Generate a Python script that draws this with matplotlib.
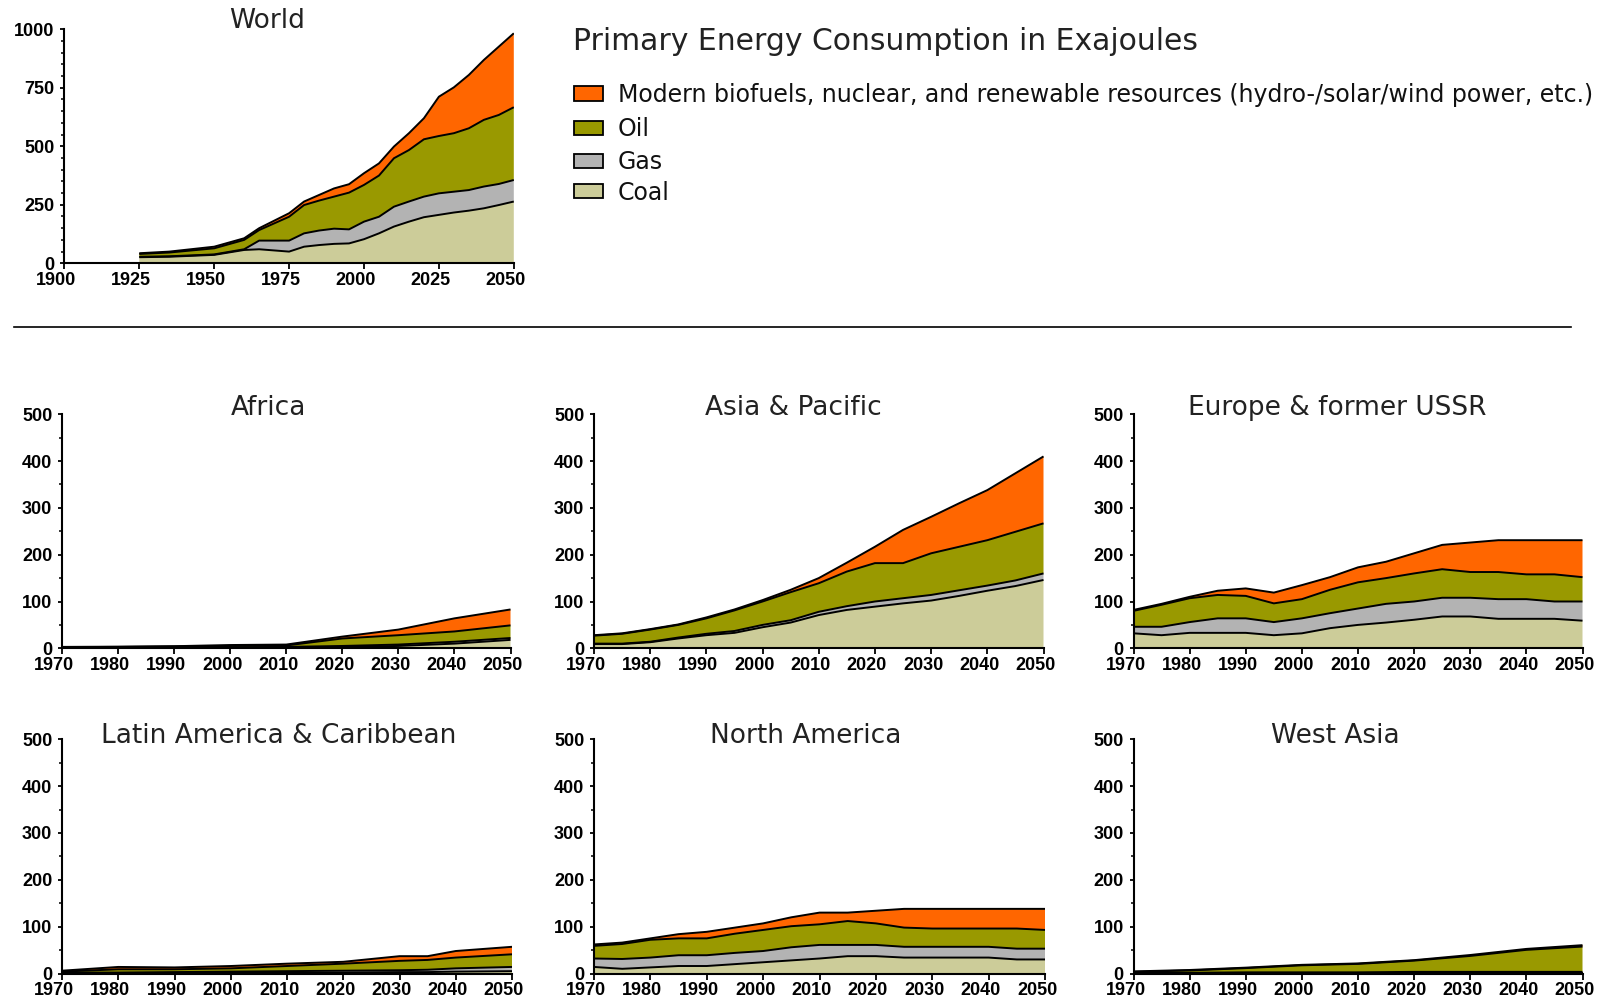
import numpy as np
import matplotlib
matplotlib.use("Agg")
import matplotlib.pyplot as plt
from matplotlib.patches import Rectangle
from matplotlib.lines import Line2D
from matplotlib.ticker import MultipleLocator
from matplotlib.transforms import ScaledTranslation

FIG_W, FIG_H = 1610, 998

LAYER_NAMES = ["Coal", "Gas", "Oil",
               "Modern biofuels, nuclear, and renewable resources (hydro-/solar/wind power, etc.)"]
LAYER_COLORS = ["#cccc99", "#b3b3b3", "#999900", "#ff6600"]
LEGEND_TITLE = "Primary Energy Consumption in Exajoules"

# World, exajoules per source
world_years = [1925, 1935, 1950, 1960, 1965, 1975, 1980, 1985, 1990, 1995, 2000,
               2005, 2010, 2015, 2020, 2025, 2030, 2035, 2040, 2045, 2050]
world_coal = [26, 28, 36, 57, 60, 50, 71, 78, 83, 85, 103, 128, 157, 178, 197, 207, 217, 225, 235, 249, 264]
world_gas = [2, 2, 2, 3, 37, 47, 57, 62, 65, 60, 75, 71, 85, 86, 88, 92, 89, 88, 93, 90, 92]
world_oil = [12, 16, 26, 40, 45, 102, 121, 128, 137, 157, 157, 176, 207, 220, 245, 245, 250, 264, 285, 295, 311]
world_renew = [3, 4, 7, 7, 8, 15, 15, 24, 35, 36, 50, 52, 50, 72, 90, 168, 196, 228, 256, 292, 316]

decade_years = [1970, 1980, 1990, 2000, 2010, 2020, 2030, 2040, 2050]
five_years = [1970, 1975, 1980, 1985, 1990, 1995, 2000, 2005, 2010, 2015,
              2020, 2025, 2030, 2035, 2040, 2045, 2050]

africa_coal = [1, 1, 1, 1, 2, 3, 5, 10, 18]
africa_gas = [0.5, 0.5, 1, 1, 1, 2, 3, 4, 4]
africa_oil = [1, 1.5, 2, 3, 3, 16, 20, 22, 27]
africa_renew = [0.5, 0.5, 0.5, 2, 2, 4, 12, 28, 34]

asia_coal = [9, 9, 13, 21, 28, 33, 45, 55, 71, 82, 89, 96, 102, 112, 123, 133, 146]
asia_gas = [1, 1, 1, 2, 3, 4, 5, 5, 7, 8, 11, 11, 12, 12, 11, 12, 14]
asia_oil = [17, 21, 26, 27, 33, 44, 50, 60, 61, 74, 82, 75, 89, 93, 97, 104, 107]
asia_renew = [1, 1, 1, 1, 2, 2, 3, 5, 11, 19, 35, 71, 78, 93, 107, 125, 143]

europe_coal = [32, 28, 33, 33, 33, 28, 32, 43, 50, 55, 61, 68, 68, 63, 63, 63, 59]
europe_gas = [14, 18, 23, 31, 31, 28, 32, 32, 35, 40, 39, 40, 40, 42, 42, 37, 41]
europe_oil = [34, 47, 51, 50, 48, 40, 41, 50, 56, 55, 60, 61, 55, 58, 53, 58, 52]
europe_renew = [2, 2, 3, 9, 16, 23, 30, 27, 32, 35, 43, 52, 63, 68, 73, 73, 79]

latin_years = [1970, 1980, 1990, 2000, 2010, 2020, 2030, 2035, 2040, 2050]
latin_coal = [1, 1, 1, 2, 2, 2, 3, 3, 4, 5]
latin_gas = [1, 1, 2, 2, 3, 4, 4, 5, 7, 9]
latin_oil = [2, 7, 6, 7, 11, 15, 20, 21, 23, 27]
latin_renew = [2, 5, 4, 5, 5, 4, 10, 8, 14, 16]

namerica_coal = [14, 10, 13, 16, 16, 20, 24, 28, 32, 37, 37, 34, 34, 34, 34, 30, 30]
namerica_gas = [18, 21, 21, 23, 23, 24, 24, 28, 29, 24, 24, 23, 23, 23, 23, 23, 23]
namerica_oil = [27, 32, 38, 36, 36, 41, 45, 45, 44, 51, 46, 41, 39, 39, 39, 43, 40]
namerica_renew = [3, 3, 3, 9, 14, 13, 14, 19, 25, 18, 27, 40, 42, 42, 42, 42, 45]

wasia_coal = [0.5, 0.5, 0.5, 0.5, 0.5, 0.5, 0.5, 0.5, 0.5]
wasia_gas = [1, 1, 2, 2, 2, 3, 3, 3, 3]
wasia_oil = [2, 5, 9, 15, 18, 24, 34, 47, 54]
wasia_renew = [1, 1, 1, 1, 1, 1, 2, 2, 3]

TICK_FONT = dict(family="Liberation Sans", weight="bold", size=13)
TITLE_FONT = dict(family="DejaVu Sans", size=19, color="#222222")


def rect(x0, x1, ytop, ybot):
    """Axes rectangle from pixel edges (origin at the top-left of the figure)."""
    return [x0 / FIG_W, 1 - ybot / FIG_H, (x1 - x0) / FIG_W, (ybot - ytop) / FIG_H]


def draw_panel(fig, box, years, layers, title, title_xy, xlim, xstep, ylim, ystep):
    ax = fig.add_axes(rect(*box))
    ax.stackplot(years, *layers, colors=LAYER_COLORS, linewidth=0, antialiased=True)
    tops = np.cumsum(np.array(layers, dtype=float), axis=0)
    for row in tops:
        ax.plot(years, row, color="black", lw=1.4, solid_joinstyle="round",
                solid_capstyle="butt", clip_on=True)
    ax.set_xlim(*xlim)
    ax.set_ylim(*ylim)
    ax.xaxis.set_major_locator(MultipleLocator(xstep))
    ax.yaxis.set_major_locator(MultipleLocator(ystep))
    ax.yaxis.set_minor_locator(MultipleLocator(50))
    for side in ("top", "right"):
        ax.spines[side].set_visible(False)
    for side in ("left", "bottom"):
        ax.spines[side].set_linewidth(1.5)
        ax.spines[side].set_color("black")
    ax.tick_params(axis="x", which="major", direction="out", length=4, width=1.3, pad=2)
    ax.tick_params(axis="y", which="major", direction="out", length=3, width=1.3, pad=4)
    ax.tick_params(axis="y", which="minor", direction="out", length=2.5, width=1.1)
    shift = ScaledTranslation(-8 / 100, 0, fig.dpi_scale_trans)
    for lab in ax.get_xticklabels():
        lab.set_transform(lab.get_transform() + shift)
    for lab in ax.get_xticklabels() + ax.get_yticklabels():
        lab.set_fontfamily(TICK_FONT["family"])
        lab.set_fontweight(TICK_FONT["weight"])
        lab.set_fontsize(TICK_FONT["size"])
    ax.patch.set_alpha(0)
    fig.text(title_xy[0] / FIG_W, 1 - title_xy[1] / FIG_H, title,
             ha="center", va="baseline", **TITLE_FONT)
    return ax


fig = plt.figure(figsize=(FIG_W / 100, FIG_H / 100), dpi=100)

# Global panel
draw_panel(fig, (64.4, 513.8, 29.3, 263.3), world_years,
           [world_coal, world_gas, world_oil, world_renew],
           "World", (267, 28.3), (1900, 2050), 25, (0, 1000), 250)

regions = [
    ("Africa", (62, 510.5, 414.3, 648.3), decade_years,
     [africa_coal, africa_gas, africa_oil, africa_renew], (268.6, 415)),
    ("Asia & Pacific", (594, 1043.5, 414.3, 648.3), five_years,
     [asia_coal, asia_gas, asia_oil, asia_renew], (793, 415)),
    ("Europe & former USSR", (1133.5, 1582.5, 414.3, 648.3), five_years,
     [europe_coal, europe_gas, europe_oil, europe_renew], (1337, 415)),
    ("Latin America & Caribbean", (62, 512, 739.3, 973.5), latin_years,
     [latin_coal, latin_gas, latin_oil, latin_renew], (279, 742.7)),
    ("North America", (594, 1045, 739.3, 973.5), five_years,
     [namerica_coal, namerica_gas, namerica_oil, namerica_renew], (806, 742.7)),
    ("West Asia", (1133.5, 1582.5, 739.3, 973.5), decade_years,
     [wasia_coal, wasia_gas, wasia_oil, wasia_renew], (1335, 742.7)),
]
for name, box, yrs, layers, txy in regions:
    draw_panel(fig, box, yrs, layers, name, txy, (1970, 2050), 10, (0, 500), 100)

# Legend block
fig.text(573 / FIG_W, 1 - 50 / FIG_H, LEGEND_TITLE, ha="left", va="baseline",
         family="DejaVu Sans", size=21.5, color="#222222")
legend_rows = [(3, 93.5), (2, 128), (1, 160.5), (0, 191)]
for idx, yc in legend_rows:
    sw, sh = 29, 14
    fig.add_artist(Rectangle((574 / FIG_W, 1 - (yc + sh / 2) / FIG_H),
                             sw / FIG_W, sh / FIG_H, transform=fig.transFigure,
                             facecolor=LAYER_COLORS[idx], edgecolor="black", lw=1.3))
    fig.text(618 / FIG_W, 1 - (yc + 8.5) / FIG_H, LAYER_NAMES[idx], ha="left",
             va="baseline", family="DejaVu Sans", size=17, color="#111111")

# Separator between the global and regional panels
fig.add_artist(Line2D([14 / FIG_W, 1571 / FIG_W], [1 - 326.5 / FIG_H] * 2,
                      transform=fig.transFigure, color="black", lw=1.2))

fig.savefig("out.png", dpi=100, facecolor="white")
